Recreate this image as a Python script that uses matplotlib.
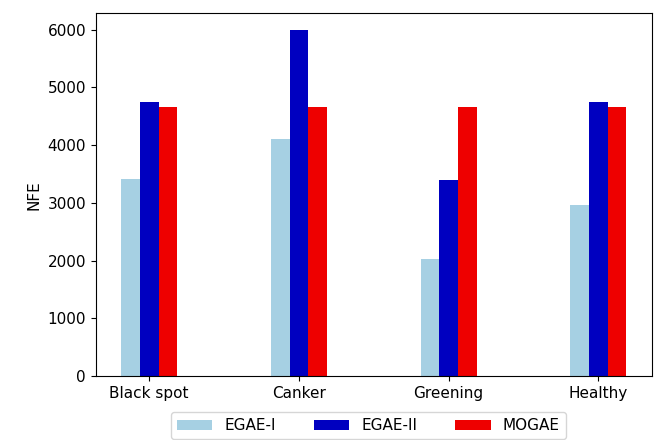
import numpy as np
import matplotlib
matplotlib.use("Agg")
import matplotlib.pyplot as plt

categories = ["Black spot", "Canker", "Greening", "Healthy"]
egae_1 = [3410, 4110, 2035, 2960]
egae_2 = [4755, 5985, 3390, 4752]
mogae = [4660, 4662, 4662, 4662]

plt.rcParams["font.size"] = 11

fig = plt.figure(figsize=(6.61, 4.40), dpi=100)
ax = fig.add_axes([0.145, 0.145, 0.841, 0.825])

x = np.arange(len(categories))
w = 0.125
ax.bar(x - w, egae_1, w, color="#a6d0e3", label="EGAE-I")
ax.bar(x, egae_2, w, color="#0000c0", label="EGAE-II")
ax.bar(x + w, mogae, w, color="#ee0000", label="MOGAE")

ax.set_xticks(x)
ax.set_xticklabels(categories)
ax.set_ylabel("NFE")
ax.legend(loc="upper center", bbox_to_anchor=(0.49, -0.078), ncol=3,
          columnspacing=2.5, handlelength=2.3)

fig.savefig("out.png", dpi=100)
